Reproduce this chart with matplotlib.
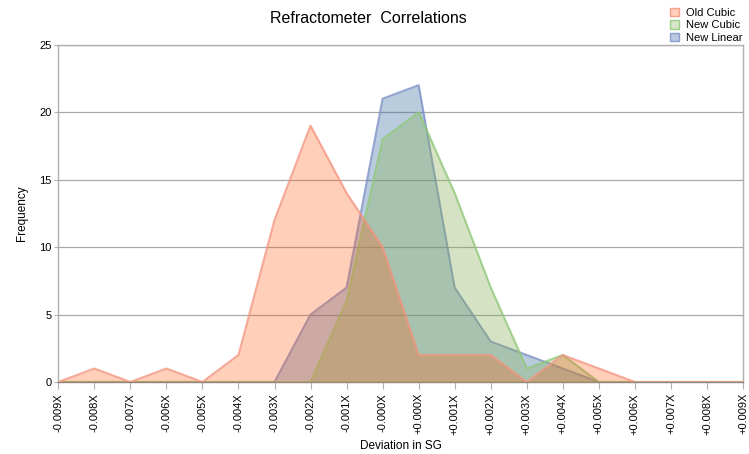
import matplotlib
matplotlib.use('Agg')
import matplotlib.pyplot as plt
from matplotlib.patches import Patch

plt.rcParams['font.family'] = ['Liberation Sans', 'DejaVu Sans']

labels = ['-0.009X', '-0.008X', '-0.007X', '-0.006X', '-0.005X', '-0.004X',
          '-0.003X', '-0.002X', '-0.001X', '-0.000X', '+0.000X', '+0.001X',
          '+0.002X', '+0.003X', '+0.004X', '+0.005X', '+0.006X', '+0.007X',
          '+0.008X', '+0.009X']
old_cubic = [0, 1, 0, 1, 0, 2, 12, 19, 14, 10, 2, 2, 2, 0, 2, 1, 0, 0, 0, 0]
new_cubic = [0, 0, 0, 0, 0, 0, 0, 0, 6, 18, 20, 14, 7, 1, 2, 0, 0, 0, 0, 0]
new_linear = [0, 0, 0, 0, 0, 0, 0, 5, 7, 21, 22, 7, 3, 2, 1, 0, 0, 0, 0, 0]

x = list(range(len(labels)))

fig = plt.figure(figsize=(7.49, 4.54), dpi=100)
ax = fig.add_axes([0.0778, 0.1586, 0.992 - 0.0778, 0.9015 - 0.1586])

# drawing order: linear, new cubic, old cubic on top
ax.fill_between(x, new_linear, color='#366DA3', alpha=0.35, lw=0, zorder=2)
ax.plot(x, new_linear, color='#7D8FC6', lw=1.5, alpha=0.8, zorder=2)
ax.fill_between(x, new_cubic, color='#89B156', alpha=0.35, lw=0, zorder=3)
ax.plot(x, new_cubic, color='#90C87A', lw=1.5, alpha=0.8, zorder=3)
ax.fill_between(x, old_cubic, color='#FF5A14', alpha=0.29, lw=0, zorder=4)
ax.plot(x, old_cubic, color='#F39580', lw=1.5, alpha=0.8, zorder=4)

ax.set_xlim(0, len(labels) - 1)
ax.set_ylim(0, 25)
ax.set_yticks([0, 5, 10, 15, 20, 25])
ax.set_xticks(x)
ax.set_xticklabels(labels, rotation=90, fontsize=8)
ax.tick_params(axis='y', labelsize=8, length=3, color='#b0b0b0', pad=2)
ax.tick_params(axis='x', length=5, color='#b0b0b0', pad=3)
ax.grid(axis='y', color='#a8a8a8', lw=0.9, zorder=1)
ax.set_axisbelow(True)
for s in ['left', 'right', 'top', 'bottom']:
    ax.spines[s].set_color('#b0b0b0')
    ax.spines[s].set_linewidth(1.0)
ax.spines['bottom'].set_color('#888888')

fig.text(0.492, 0.96, 'Refractometer  Correlations', ha='center', va='center', fontsize=11.5)
ax.set_ylabel('Frequency', fontsize=8.5, labelpad=8)
fig.text(0.535, 0.017, 'Deviation in SG', ha='center', va='center', fontsize=8.5)

handles = [Patch(facecolor='#FFCDB9', edgecolor='#F5A08A', label='Old Cubic'),
           Patch(facecolor='#D6E6C6', edgecolor='#9DCF8A', label='New Cubic'),
           Patch(facecolor='#B9C8DF', edgecolor='#8C9CCB', label='New Linear')]
fig.legend(handles=handles, loc='upper right', bbox_to_anchor=(1.0, 0.998), frameon=False,
           fontsize=8, handlelength=0.8, handleheight=0.8, handletextpad=0.6,
           labelspacing=0.22, borderaxespad=0.2)

fig.savefig('out.png', dpi=100)
